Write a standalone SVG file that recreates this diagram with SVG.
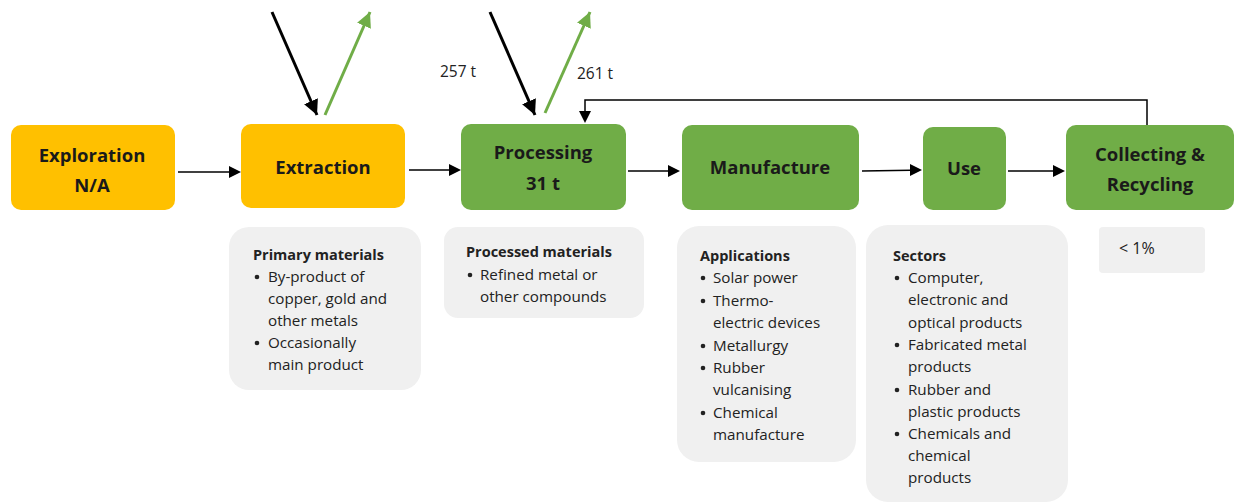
<svg xmlns="http://www.w3.org/2000/svg" width="1234" height="504" viewBox="0 0 1234 504">
<defs>
<style>
.node-y{fill:#FFC000}
.node-g{fill:#70AD47}
.lbl{font-family:"Open Sans","Noto Sans",sans-serif;font-weight:bold;font-size:18.5px;fill:#1a1a1a;text-anchor:middle}
.info{fill:#F0F0F0}
.txt{font-family:"Open Sans","Noto Sans",sans-serif;font-size:15.2px;fill:#222}
.hdr{font-weight:bold;font-size:14.5px}
.dot{fill:#222}
.qty{font-family:"Open Sans","Noto Sans",sans-serif;font-size:15.5px;fill:#222}
.flow{stroke:#000;stroke-width:1.5;fill:none}
.in{stroke:#000;stroke-width:3;fill:none}
.out{stroke:#70AD47;stroke-width:3;fill:none}
</style>
<marker id="ahb" viewBox="0 0 10 10" refX="10" refY="5" markerWidth="5" markerHeight="5" orient="auto"><path d="M0,0 L10,5 L0,10 z" fill="#000"/></marker>
<marker id="ahg" viewBox="0 0 10 10" refX="10" refY="5" markerWidth="5" markerHeight="5" orient="auto"><path d="M0,0 L10,5 L0,10 z" fill="#70AD47"/></marker>
</defs>
<rect width="1234" height="504" fill="#fff"/>

<g id="connectors">
<path d="M178,172 L229,172" class="flow"/>
<path d="M229,166 L241,172 L229,178 z" fill="#000"/>
<path d="M409,170 L450,170" class="flow"/>
<path d="M449,164 L461,170 L449,176 z" fill="#000"/>
<path d="M628,171 L669,171" class="flow"/>
<path d="M668,165 L680,171 L668,177 z" fill="#000"/>
<path d="M862,171 L911,170.3" class="flow"/>
<path d="M910,164 L922,170 L910,176 z" fill="#000"/>
<path d="M1008,171 L1054,171" class="flow"/>
<path d="M1053,165 L1065,171 L1053,177 z" fill="#000"/>
<path d="M1147,125 L1147,100 L585,100 L585,112" class="flow"/>
<path d="M579,111 L585,123 L591,111 z" fill="#000"/>
<line class="in" x1="272" y1="12" x2="317" y2="115" marker-end="url(#ahb)"/>
<line class="out" x1="325" y1="115" x2="370" y2="12" marker-end="url(#ahg)"/>
<line class="in" x1="490" y1="12" x2="535" y2="115" marker-end="url(#ahb)"/>
<line class="out" x1="545" y1="113" x2="590" y2="12" marker-end="url(#ahg)"/>
<text class="qty" x="440" y="77">257 t</text>
<text class="qty" x="577" y="79">261 t</text>
</g>

<g id="exploration">
<rect class="node-y" x="11" y="125" width="164" height="85" rx="10"/>
<text class="lbl" x="92" y="162">Exploration</text>
<text class="lbl" x="92" y="192">N/A</text>
</g>
<g id="extraction">
<rect class="node-y" x="241" y="124" width="164" height="84" rx="10"/>
<text class="lbl" x="323" y="174">Extraction</text>
</g>
<g id="processing">
<rect class="node-g" x="461" y="124" width="165" height="86" rx="10"/>
<text class="lbl" x="543" y="159">Processing</text>
<text class="lbl" x="543" y="190">31 t</text>
</g>
<g id="manufacture">
<rect class="node-g" x="682" y="125" width="177" height="85" rx="10"/>
<text class="lbl" x="770" y="174">Manufacture</text>
</g>
<g id="use">
<rect class="node-g" x="923" y="127" width="83" height="83" rx="10"/>
<text class="lbl" x="964" y="175">Use</text>
</g>
<g id="collecting">
<rect class="node-g" x="1066" y="125" width="168" height="85" rx="10"/>
<text class="lbl" x="1150" y="161">Collecting &amp;</text>
<text class="lbl" x="1150" y="191">Recycling</text>
</g>

<g id="primary-materials">
<rect class="info" x="229" y="227" width="192" height="163" rx="20"/>
<circle class="dot" cx="257" cy="277" r="2.3"/>
<circle class="dot" cx="257" cy="343" r="2.3"/>
<text class="txt"><tspan class="hdr" x="253" y="260">Primary materials</tspan><tspan x="268" y="282">By-product of</tspan><tspan x="268" y="304">copper, gold and</tspan><tspan x="268" y="326">other metals</tspan><tspan x="268" y="348">Occasionally</tspan><tspan x="268" y="370">main product</tspan></text>
</g>
<g id="processed-materials">
<rect class="info" x="444" y="227" width="200" height="91" rx="14"/>
<circle class="dot" cx="470" cy="275" r="2.3"/>
<text class="txt"><tspan class="hdr" x="466" y="257">Processed materials</tspan><tspan x="480" y="280">Refined metal or</tspan><tspan x="480" y="302">other compounds</tspan></text>
</g>
<g id="applications">
<rect class="info" x="677" y="226" width="179" height="236" rx="22"/>
<circle class="dot" cx="703" cy="278" r="2.3"/>
<circle class="dot" cx="703" cy="301" r="2.3"/>
<circle class="dot" cx="703" cy="346" r="2.3"/>
<circle class="dot" cx="703" cy="368" r="2.3"/>
<circle class="dot" cx="703" cy="413" r="2.3"/>
<text class="txt"><tspan class="hdr" x="700" y="261">Applications</tspan><tspan x="713" y="283">Solar power</tspan><tspan x="713" y="306">Thermo-</tspan><tspan x="713" y="328">electric devices</tspan><tspan x="713" y="351">Metallurgy</tspan><tspan x="713" y="373">Rubber</tspan><tspan x="713" y="395">vulcanising</tspan><tspan x="713" y="418">Chemical</tspan><tspan x="713" y="440">manufacture</tspan></text>
</g>
<g id="sectors">
<rect class="info" x="866" y="225" width="202" height="277" rx="22"/>
<circle class="dot" cx="897" cy="278" r="2.3"/>
<circle class="dot" cx="897" cy="345" r="2.3"/>
<circle class="dot" cx="897" cy="390" r="2.3"/>
<circle class="dot" cx="897" cy="434" r="2.3"/>
<text class="txt"><tspan class="hdr" x="893" y="261">Sectors</tspan><tspan x="908" y="283">Computer,</tspan><tspan x="908" y="305">electronic and</tspan><tspan x="908" y="328">optical products</tspan><tspan x="908" y="350">Fabricated metal</tspan><tspan x="908" y="372">products</tspan><tspan x="908" y="395">Rubber and</tspan><tspan x="908" y="417">plastic products</tspan><tspan x="908" y="439">Chemicals and</tspan><tspan x="908" y="461">chemical</tspan><tspan x="908" y="483">products</tspan></text>
</g>
<g id="recycling-rate">
<rect class="info" x="1099" y="227" width="106" height="46" rx="4"/>
<text class="txt" x="1119" y="254" style="font-size:16px">&lt; 1%</text>
</g>
</svg>
